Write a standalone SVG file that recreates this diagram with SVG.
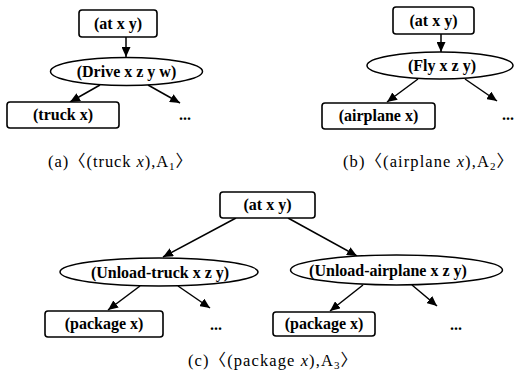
<svg xmlns="http://www.w3.org/2000/svg" width="515" height="380" viewBox="0 0 515 380">
  <style>
    .box { fill: #fff; stroke: #000; stroke-width: 1.6; }
    .ell { fill: #fff; stroke: #000; stroke-width: 1.5; }
    .lbl { font-family: "Liberation Serif", "Times New Roman", serif; font-weight: bold; font-size: 16px; text-anchor: middle; fill: #000; }
    .cap { font-family: "Liberation Serif", "Noto Sans CJK SC", serif; font-size: 16.5px; fill: #000; }
    .edge { stroke: #000; stroke-width: 1.5; fill: none; marker-end: url(#tip); }
  </style>
  <defs>
    <marker id="tip" markerUnits="userSpaceOnUse" markerWidth="11" markerHeight="9" refX="10" refY="4.5" orient="auto">
      <path d="M0,0 L10,4.5 L0,9 z" fill="#000"/>
    </marker>
  </defs>
  <rect width="515" height="380" fill="#fff"/>

  <!-- connectors -->
  <g id="connectors">
    <!-- (a) -->
    <line class="edge" x1="126" y1="37" x2="126" y2="57"/>
    <line class="edge" x1="100" y1="85" x2="70" y2="102"/>
    <line class="edge" x1="148" y1="85" x2="180" y2="103"/>
    <!-- (b) -->
    <line class="edge" x1="441" y1="34" x2="441" y2="52"/>
    <line class="edge" x1="418" y1="79" x2="387" y2="102"/>
    <line class="edge" x1="465" y1="79" x2="497" y2="101"/>
    <!-- (c) -->
    <line class="edge" x1="236" y1="218" x2="163" y2="257"/>
    <line class="edge" x1="288" y1="218" x2="357" y2="256"/>
    <line class="edge" x1="140" y1="286" x2="108" y2="310"/>
    <line class="edge" x1="178" y1="286" x2="210" y2="308"/>
    <line class="edge" x1="363" y1="285" x2="330" y2="311"/>
    <line class="edge" x1="412" y1="285" x2="437" y2="306"/>
  </g>

  <!-- (a) Drive -->
  <g id="a-at">
    <rect class="box" x="79" y="10" width="78" height="27" rx="3"/>
    <text class="lbl" x="118" y="29">(at x y)</text>
  </g>
  <g id="a-drive">
    <ellipse class="ell" cx="126.5" cy="71.5" rx="76" ry="14"/>
    <text class="lbl" x="126.5" y="77">(Drive x z y w)</text>
  </g>
  <g id="a-truck">
    <rect class="box" x="7" y="102" width="112" height="26" rx="3"/>
    <text class="lbl" x="63" y="120">(truck x)</text>
  </g>
  <g id="a-more">
    <text class="lbl" x="185" y="120">...</text>
  </g>
  <text class="cap" x="48" y="167" textLength="144" lengthAdjust="spacing">(a)〈(truck <tspan font-style="italic">x</tspan>),A<tspan font-size="11" dy="3">1</tspan><tspan dy="-3">〉</tspan></text>

  <!-- (b) Fly -->
  <g id="b-at">
    <rect class="box" x="393" y="7" width="81" height="27" rx="3"/>
    <text class="lbl" x="433.5" y="26">(at x y)</text>
  </g>
  <g id="b-fly">
    <ellipse class="ell" cx="440" cy="65.5" rx="73" ry="13.5"/>
    <text class="lbl" x="442" y="71">(Fly x z y)</text>
  </g>
  <g id="b-airplane">
    <rect class="box" x="322" y="103" width="113" height="26" rx="3"/>
    <text class="lbl" x="378.5" y="121">(airplane x)</text>
  </g>
  <g id="b-more">
    <text class="lbl" x="508" y="120">...</text>
  </g>
  <text class="cap" x="343" y="167" textLength="170" lengthAdjust="spacing">(b)〈(airplane <tspan font-style="italic">x</tspan>),A<tspan font-size="11" dy="3">2</tspan><tspan dy="-3">〉</tspan></text>

  <!-- (c) Unload -->
  <g id="c-at">
    <rect class="box" x="220" y="192" width="95" height="26" rx="3"/>
    <text class="lbl" x="267.5" y="210">(at x y)</text>
  </g>
  <g id="c-unload-truck">
    <ellipse class="ell" cx="159" cy="272" rx="99" ry="14"/>
    <text class="lbl" x="160" y="277.5">(Unload-truck x z y)</text>
  </g>
  <g id="c-unload-airplane">
    <ellipse class="ell" cx="396.5" cy="270" rx="106" ry="15"/>
    <text class="lbl" x="388" y="275.5">(Unload-airplane x z y)</text>
  </g>
  <g id="c-package-1">
    <rect class="box" x="45" y="311" width="118" height="26" rx="3"/>
    <text class="lbl" x="104" y="329">(package x)</text>
  </g>
  <g id="c-more-1">
    <text class="lbl" x="216" y="330">...</text>
  </g>
  <g id="c-package-2">
    <rect class="box" x="273" y="312" width="102" height="24" rx="3"/>
    <text class="lbl" x="324" y="329">(package x)</text>
  </g>
  <g id="c-more-2">
    <text class="lbl" x="456" y="330">...</text>
  </g>
  <text class="cap" x="188" y="366" textLength="169" lengthAdjust="spacing">(c)〈(package <tspan font-style="italic">x</tspan>),A<tspan font-size="11" dy="3">3</tspan><tspan dy="-3">〉</tspan></text>
</svg>
